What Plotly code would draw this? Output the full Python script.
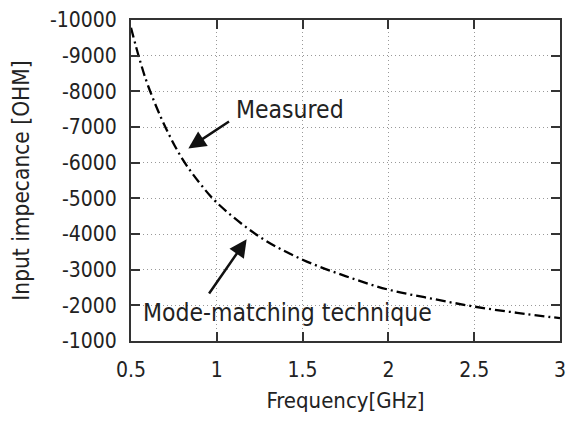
import plotly.graph_objects as go

# frequency sweep [GHz] and input impedance [OHM]
freq_ghz = [0.5, 0.55, 0.6, 0.7, 0.8, 0.9, 1.0, 1.25, 1.5, 1.75, 2.0, 2.25, 2.5, 2.75, 3.0]
impedance = [-9780, -8900, -8150, -7000, -6100, -5430, -4880, -3920, -3280,
             -2820, -2440, -2190, -1965, -1790, -1640]

x_ticks = [0.5, 1, 1.5, 2, 2.5, 3]
y_ticks = [-10000, -9000, -8000, -7000, -6000, -5000, -4000, -3000, -2000, -1000]

FONT = "DejaVu Sans Condensed, DejaVu Sans, sans-serif"
INK = "#222222"

fig = go.Figure()
fig.add_trace(go.Scatter(
    x=freq_ghz, y=impedance, mode="lines",
    line=dict(color="black", width=2.3, dash="10px,4px,2px,4px", shape="spline"),
    showlegend=False,
))

axis_common = dict(
    showline=True, linecolor="#333333", linewidth=2, mirror="ticks",
    ticks="inside", ticklen=9, tickwidth=1.5, tickcolor="#333333",
    showgrid=True, gridcolor="#999999", gridwidth=1, griddash="1px,3px",
    zeroline=False, automargin=False,
    tickfont=dict(family=FONT, size=21, color=INK),
)

fig.update_xaxes(
    range=[0.5, 3], tickvals=x_ticks, ticktext=[str(t) for t in x_ticks],
    ticklabelstandoff=9,
    title=dict(text="Frequency[GHz]", font=dict(family=FONT, size=22, color=INK), standoff=18),
    **axis_common,
)
fig.update_yaxes(
    range=[-1000, -10000], tickvals=y_ticks, ticktext=[str(t) for t in y_ticks],
    ticklabelstandoff=8,
    title=dict(text="Input impecance [OHM]", font=dict(family=FONT, size=22.5, color=INK), standoff=18),
    **axis_common,
)

# arrows
fig.add_annotation(x=0.834, y=-6400, ax=1.08, ay=-7180, axref="x", ayref="y", text="",
                   showarrow=True, arrowhead=2, arrowsize=1.4, arrowwidth=2.5, arrowcolor="#111111")
fig.add_annotation(x=1.174, y=-3850, ax=0.949, ay=-2290, axref="x", ayref="y", text="",
                   showarrow=True, arrowhead=2, arrowsize=1.4, arrowwidth=2.5, arrowcolor="#111111")
# labels
fig.add_annotation(x=1.4245, y=-7480, text="Measured", showarrow=False,
                   font=dict(family=FONT, size=24.5, color=INK))
fig.add_annotation(x=1.413, y=-1786, text="Mode-matching technique", showarrow=False,
                   font=dict(family=FONT, size=24.5, color=INK))

# page body has an 8px margin, so keep the figure (and the "3" label) inside the window
fig.update_layout(
    width=560, height=405,
    margin=dict(l=123, r=8, t=12, b=72),
    plot_bgcolor="white", paper_bgcolor="white",
)

fig.write_html("out.html")
